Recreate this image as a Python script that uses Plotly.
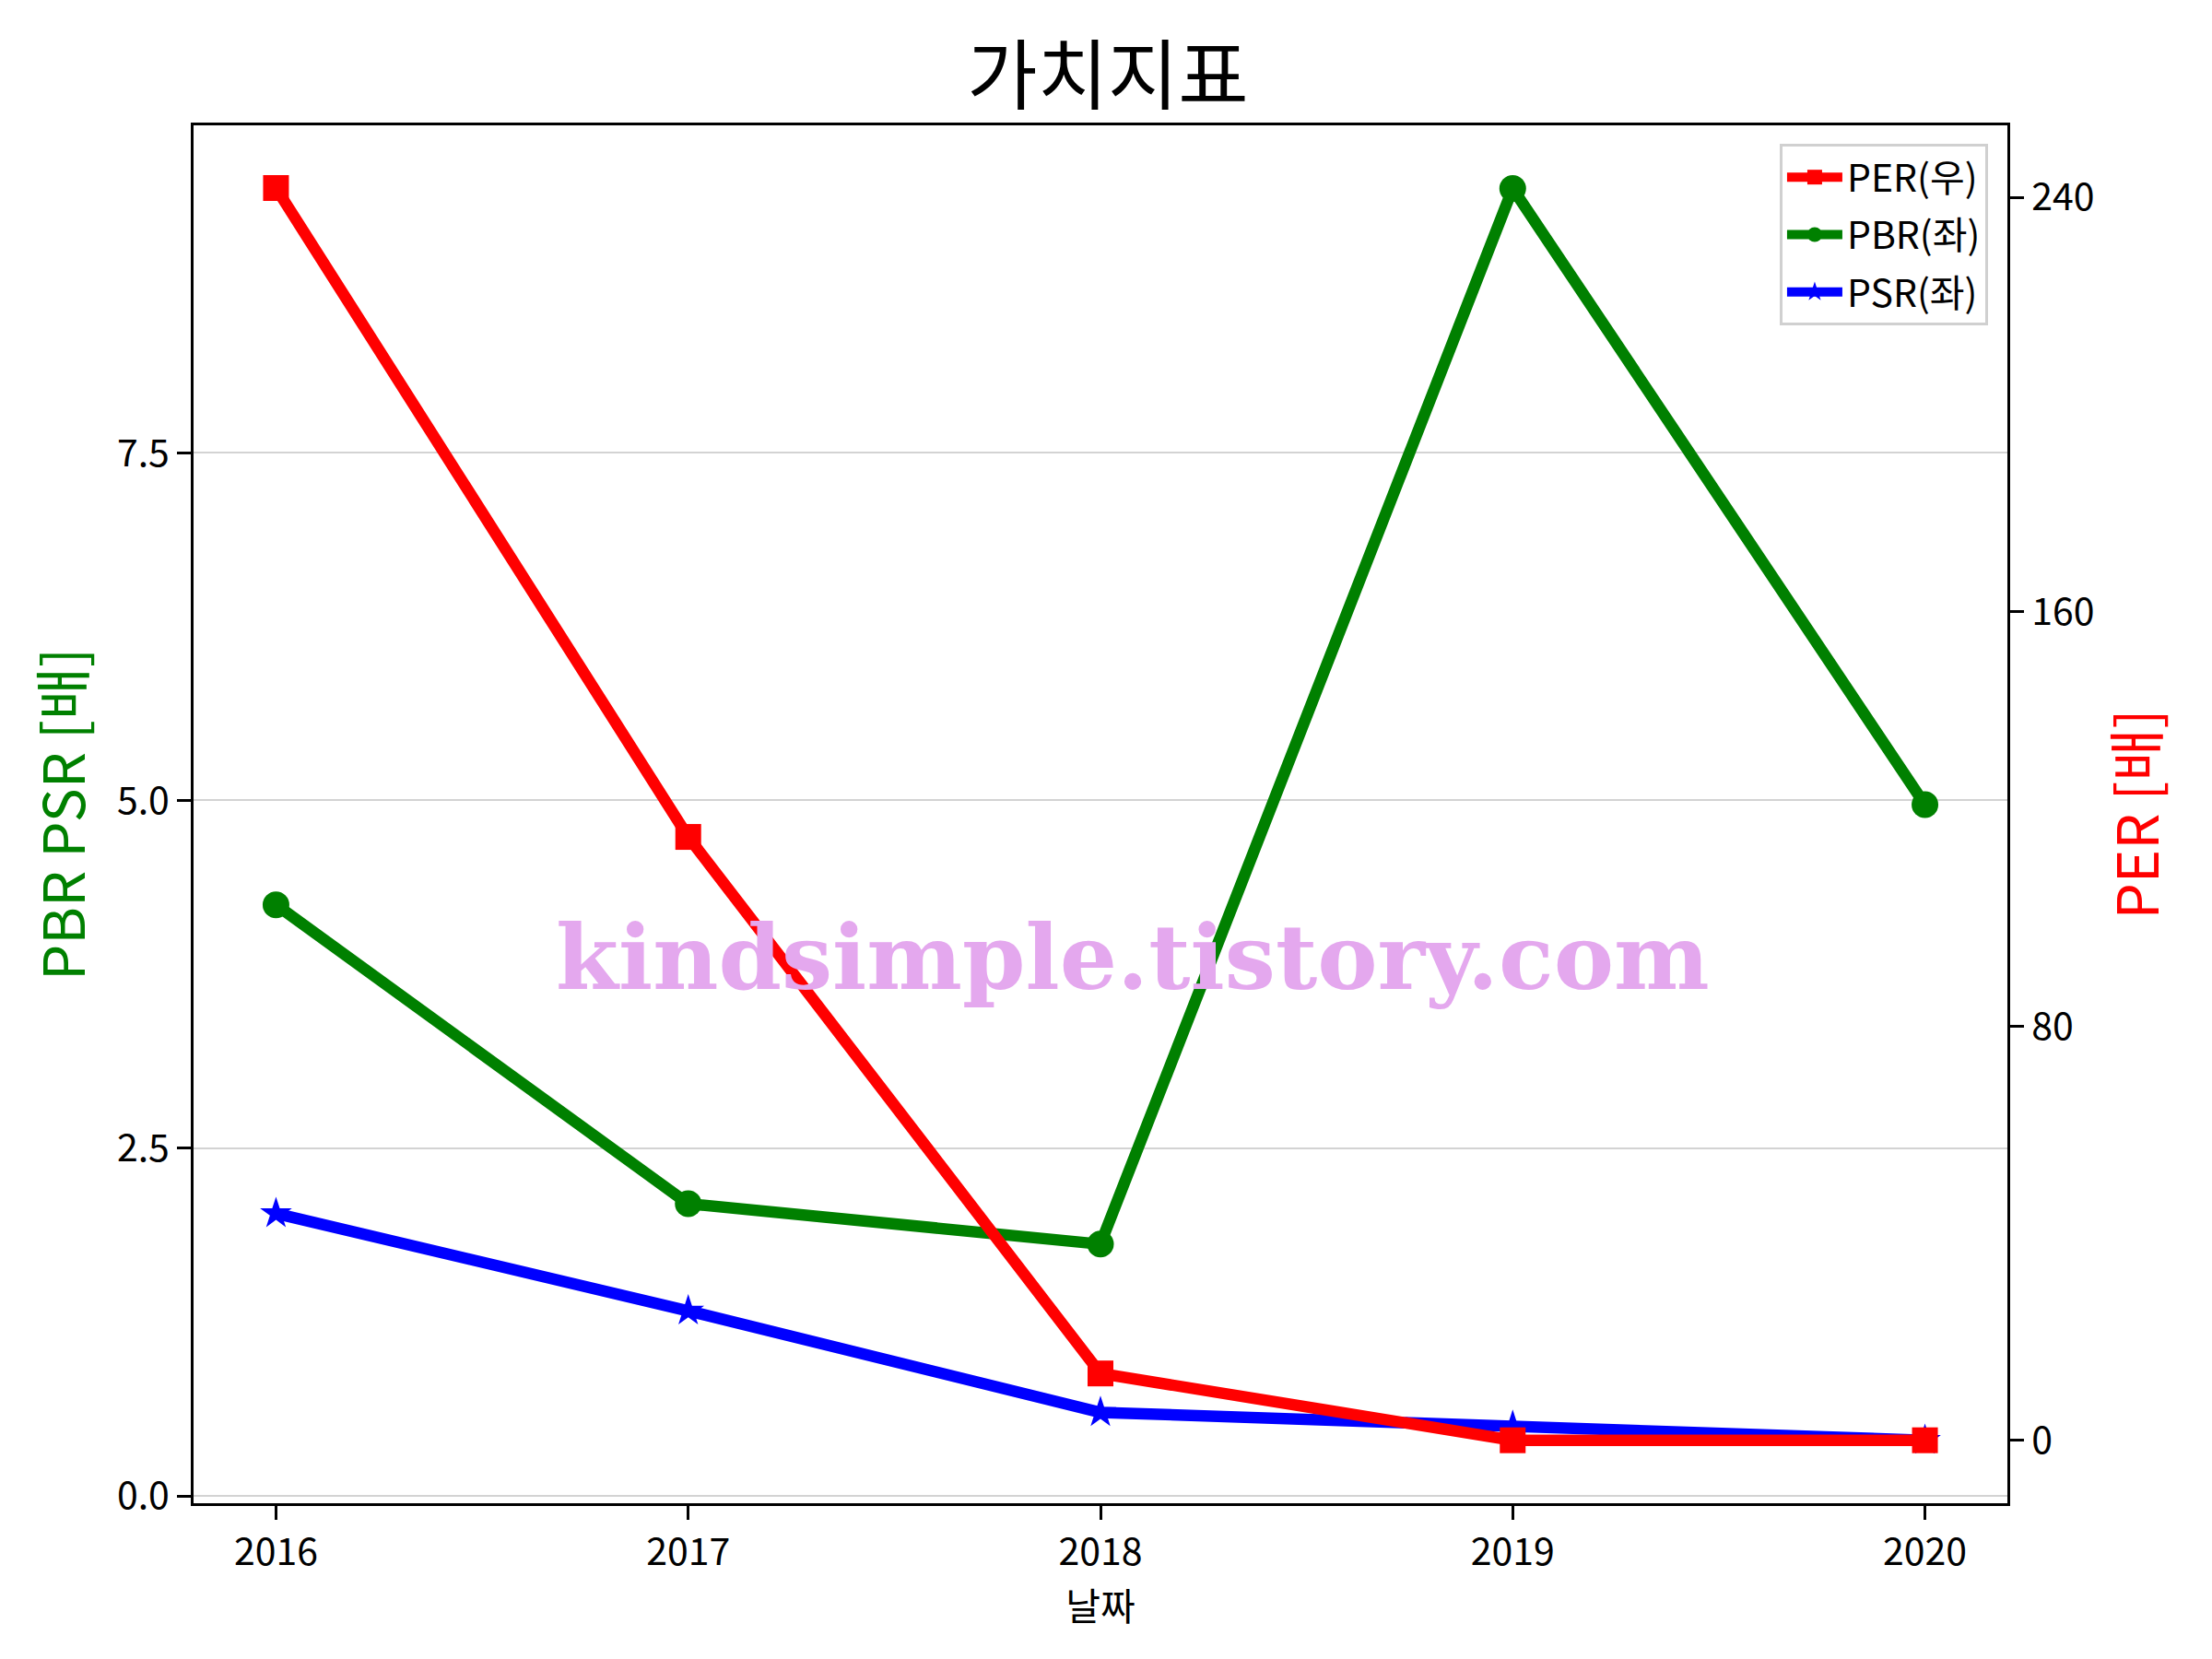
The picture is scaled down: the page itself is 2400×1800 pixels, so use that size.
import plotly.graph_objects as go

years = [2016, 2017, 2018, 2019, 2020]
per_values = [241.8, 116.5, 12.9, 0.0, 0.0]
pbr_values = [4.25, 2.10, 1.81, 9.40, 4.97]
psr_values = [2.03, 1.33, 0.60, 0.50, 0.40]

left_ticks = [0.0, 2.5, 5.0, 7.5]
left_ticklabels = ["0.0", "2.5", "5.0", "7.5"]
right_ticks = [0, 80, 160, 240]
right_ticklabels = ["0", "80", "160", "240"]

FONT = "Noto Sans CJK KR"
LW = 12.5

fig = go.Figure()
fig.add_trace(go.Scatter(
    x=years, y=pbr_values, name="PBR(좌)", mode="lines+markers",
    line=dict(color="green", width=LW),
    marker=dict(symbol="circle", size=29, color="green"),
    yaxis="y", legendrank=2, legendgroup="pbr"))
fig.add_trace(go.Scatter(
    x=years, y=psr_values, name="PSR(좌)", mode="lines+markers",
    line=dict(color="blue", width=LW),
    marker=dict(symbol="star", size=26, color="blue"),
    yaxis="y", legendrank=3, legendgroup="psr"))
fig.add_trace(go.Scatter(
    x=years, y=per_values, name="PER(우)", mode="lines+markers",
    line=dict(color="red", width=LW),
    marker=dict(symbol="square", size=28, color="red"),
    yaxis="y2", legendrank=1, legendgroup="per"))

fig.update_layout(
    width=2400, height=1800,
    paper_bgcolor="white", plot_bgcolor="white",
    margin=dict(l=202, r=230, t=128, b=177),
    font=dict(family=FONT, size=41, color="black"),
    title=dict(text="가치지표", x=0.4975, xanchor="center", y=1 - 75 / 1800,
               yanchor="middle", yref="container",
               font=dict(family=FONT, size=83, color="black")),
    xaxis=dict(
        range=[2015.8, 2020.2], tickvals=years, ticktext=[str(y) for y in years],
        ticks="outside", ticklen=15, tickwidth=3, tickcolor="black",
        showline=True, linecolor="black", linewidth=3, mirror=True,
        showgrid=False, zeroline=False,
        tickfont=dict(family=FONT, size=41, color="black"),
        title=dict(text="날짜", standoff=1, font=dict(family=FONT, size=41, color="black")),
    ),
    yaxis=dict(
        range=[-0.053, 9.854], tickvals=left_ticks, ticktext=left_ticklabels,
        ticks="outside", ticklen=15, tickwidth=3, tickcolor="black",
        showline=True, linecolor="black", linewidth=3,
        showgrid=True, gridcolor="#d3d3d3", gridwidth=2, zeroline=False,
        tickfont=dict(family=FONT, size=41, color="black"),
        title=dict(text="PBR PSR [배]", standoff=15, font=dict(family=FONT, size=62, color="green")),
    ),
    yaxis2=dict(
        range=[-12.16, 253.9], tickvals=right_ticks, ticktext=right_ticklabels,
        overlaying="y", side="right",
        ticks="outside", ticklen=15, tickwidth=3, tickcolor="black",
        showline=True, linecolor="black", linewidth=3,
        showgrid=False, zeroline=False,
        tickfont=dict(family=FONT, size=41, color="black"),
        title=dict(text="PER [배]", standoff=28, font=dict(family=FONT, size=62, color="red")),
    ),
    legend=dict(
        x=0.9893, y=0.9866, xanchor="right", yanchor="top",
        bgcolor="white", bordercolor="#d0d0d0", borderwidth=3,
        font=dict(family=FONT, size=41, color="black"),
        itemwidth=60, tracegroupgap=6,
    ),
    showlegend=True,
)

fig.add_annotation(
    text="<b>kindsimple.tistory.com</b>", x=0.518, y=0.396,
    xref="paper", yref="paper", xanchor="center", yanchor="middle",
    showarrow=False,
    font=dict(family="DejaVu Serif", size=98, color="rgb(228,168,238)"),
)

fig.write_html("out.html")
